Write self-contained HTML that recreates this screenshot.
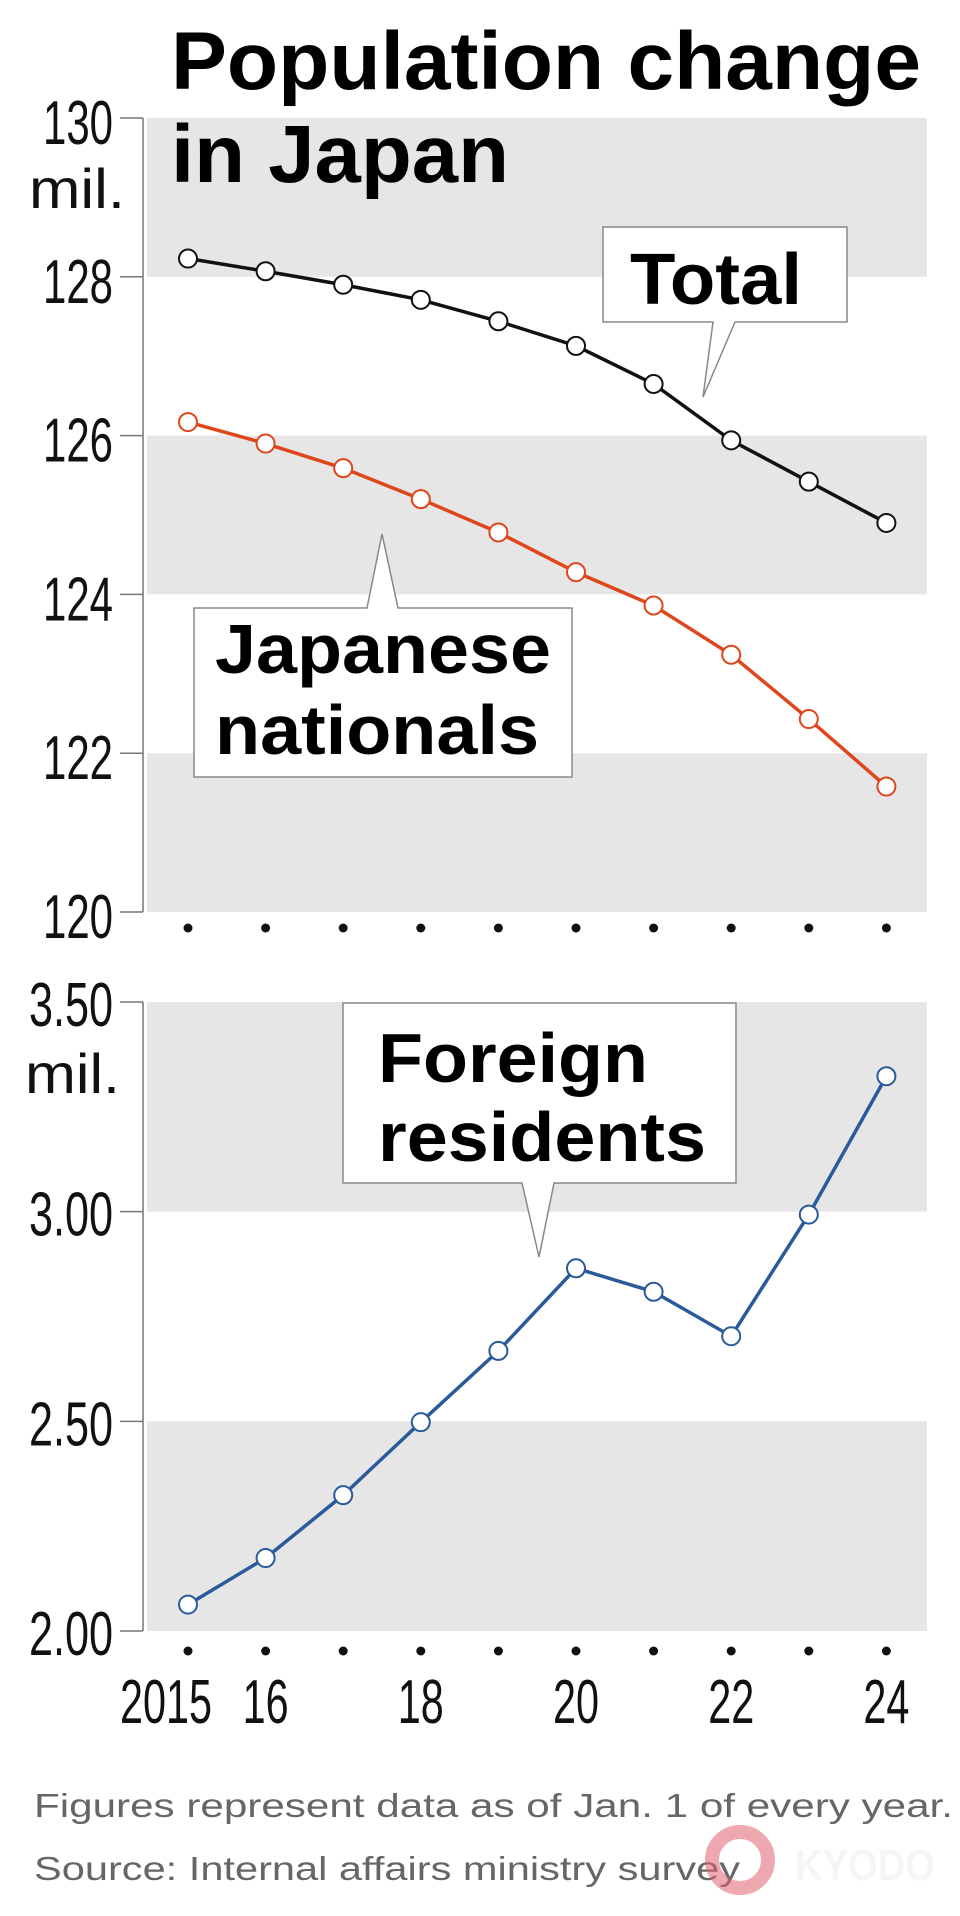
<!DOCTYPE html>
<html><head><meta charset="utf-8"><style>
html,body{margin:0;padding:0;background:#fff;}
svg{display:block;}
text{font-family:"Liberation Sans",sans-serif;}
.tick{font-size:62px;fill:#111;}
.bold{font-weight:bold;fill:#000;}
</style></head><body>
<svg id="chart" width="960" height="1916" viewBox="0 0 960 1916" xmlns="http://www.w3.org/2000/svg">
<g id="bands"></g>
<g id="axes"></g>
<g id="series"></g>
<g id="labels"></g>
<text class="bold" x="171" y="89" font-size="82" textLength="750" lengthAdjust="spacingAndGlyphs">Population change</text>
<text class="bold" x="171" y="182" font-size="82" textLength="338" lengthAdjust="spacingAndGlyphs">in Japan</text>
<g>
<path d="M603 227 H847 V322 H735 L703 397 L713 322 H603 Z" fill="#fff" stroke="#888" stroke-width="1.5"/>
<text class="bold" x="630" y="304" font-size="72" textLength="172" lengthAdjust="spacingAndGlyphs">Total</text>
</g>
<g>
<path d="M194 608 H367 L382 534 L398 608 H572 V777 H194 Z" fill="#fff" stroke="#888" stroke-width="1.5"/>
<text class="bold" x="215" y="673" font-size="70" textLength="336" lengthAdjust="spacingAndGlyphs">Japanese</text>
<text class="bold" x="215" y="754" font-size="70" textLength="324" lengthAdjust="spacingAndGlyphs">nationals</text>
</g>
<g>
<path d="M343 1003 H736 V1183 H554 L539 1257 L522 1183 H343 Z" fill="#fff" stroke="#888" stroke-width="1.5"/>
<text class="bold" x="378" y="1082" font-size="70" textLength="270" lengthAdjust="spacingAndGlyphs">Foreign</text>
<text class="bold" x="378" y="1161" font-size="70" textLength="328" lengthAdjust="spacingAndGlyphs">residents</text>
</g>
<text x="34" y="1817" font-size="33" fill="#666" textLength="919" lengthAdjust="spacingAndGlyphs">Figures represent data as of Jan. 1 of every year.</text>
<text x="34" y="1880" font-size="33" fill="#666" textLength="706" lengthAdjust="spacingAndGlyphs">Source: Internal affairs ministry survey</text>
<g opacity="0.55">
<circle cx="740" cy="1860" r="28" fill="none" stroke="#e0606e" stroke-width="14"/>
<text x="795" y="1880" font-size="44" font-weight="bold" fill="#eee" textLength="140" lengthAdjust="spacingAndGlyphs">KYODO</text>
</g>
</svg>
<script>
const years=[2015,2016,2017,2018,2019,2020,2021,2022,2023,2024];
const totalVals=[128.23,128.07,127.90,127.71,127.44,127.13,126.65,125.94,125.42,124.90];
const japaneseVals=[126.17,125.90,125.59,125.20,124.78,124.28,123.86,123.24,122.43,121.58];
const foreignVals=[2.063,2.174,2.324,2.498,2.668,2.865,2.809,2.703,2.993,3.323];
const topTicks=["120","122","124","126","128","130"];
const botTicks=["2.00","2.50","3.00","3.50"];
const yearLabels=["2015","16","","18","","20","","22","","24"];

const NS="http://www.w3.org/2000/svg";
function mk(tag,attrs,parent){const e=document.createElementNS(NS,tag);for(const k in attrs)e.setAttribute(k,attrs[k]);parent.appendChild(e);return e;}
const xS=i=>188+i*77.6;
const yTop=v=>912-(v-120)*(912-118)/10;
const yBot=v=>1631-(v-2)*(1631-1002)/1.5;
const bands=document.getElementById('bands'),axes=document.getElementById('axes'),series=document.getElementById('series'),labels=document.getElementById('labels');

// bands
[[128,130],[124,126],[120,122]].forEach(b=>{const r=mk('rect',{x:147,y:yTop(b[1]),width:780,height:yTop(b[0])-yTop(b[1]),fill:'#e6e6e6'},bands);

});
[[3,3.5],[2,2.5]].forEach(b=>{const r=mk('rect',{x:147,y:yBot(b[1]),width:780,height:yBot(b[0])-yBot(b[1]),fill:'#e6e6e6'},bands);

});

// axes
const a1=mk('line',{x1:143,y1:yTop(130),x2:143,y2:yTop(120),stroke:'#777','stroke-width':1.5},axes);


const a2=mk('line',{x1:143,y1:yBot(3.5),x2:143,y2:yBot(2),stroke:'#777','stroke-width':1.5},axes);


topTicks.forEach(t=>{const y=yTop(+t);
mk('line',{x1:120,y1:y,x2:143,y2:y,stroke:'#777','stroke-width':1.5},axes);
const tx=mk('text',{x:113,y:y+26,'text-anchor':'end',class:'tick',textLength:70,lengthAdjust:'spacingAndGlyphs'},labels);tx.textContent=t;

});
botTicks.forEach(t=>{const y=yBot(+t);
mk('line',{x1:120,y1:y,x2:143,y2:y,stroke:'#777','stroke-width':1.5},axes);
const tx=mk('text',{x:113,y:y+24,'text-anchor':'end',class:'tick',textLength:84,lengthAdjust:'spacingAndGlyphs'},labels);tx.textContent=t;

});
const m1=mk('text',{x:29,y:208,'font-size':56,fill:'#111',textLength:96,lengthAdjust:'spacingAndGlyphs'},labels);m1.textContent='mil.';


const m2=mk('text',{x:25,y:1093,'font-size':56,fill:'#111',textLength:95,lengthAdjust:'spacingAndGlyphs'},labels);m2.textContent='mil.';



years.forEach((y,i)=>{
[928,1651].forEach(yy=>{const d=mk('circle',{cx:xS(i),cy:yy,r:4.5,fill:'#111'},axes);

});
const lab=yearLabels[i];
if(lab){const w=lab.length*23;const cx=i===0?166:xS(i);
const tx=mk('text',{x:cx,y:1723,'text-anchor':'middle',class:'tick','font-size':66,textLength:w,lengthAdjust:'spacingAndGlyphs'},labels);tx.textContent=lab;

}
});

function drawSeries(vals,yf,color,name){
const pts=vals.map((v,i)=>xS(i)+','+yf(v)).join(' ');
const pl=mk('polyline',{points:pts,fill:'none',stroke:color,'stroke-width':3.5},series);


vals.forEach((v,i)=>{const c=mk('circle',{cx:xS(i),cy:yf(v),r:9,fill:'#fff',stroke:color,'stroke-width':2},series);

});
}
drawSeries(totalVals,yTop,'#111','total');
drawSeries(japaneseVals,yTop,'#e0461c','japanese');
drawSeries(foreignVals,yBot,'#2a5a9c','foreign');
</script>
</body></html>
